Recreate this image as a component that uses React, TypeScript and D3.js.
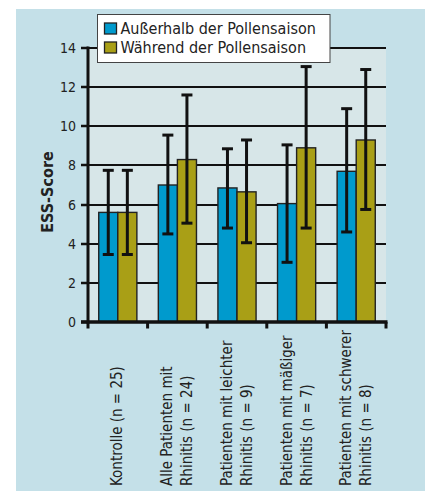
import React from "react";
import * as d3 from "d3";

const categories: string[][] = [
  ["Kontrolle (n = 25)"],
  ["Alle Patienten mit", "Rhinitis (n = 24)"],
  ["Patienten mit leichter", "Rhinitis (n = 9)"],
  ["Patienten mit mäßiger", "Rhinitis (n = 7)"],
  ["Patienten mit schwerer", "Rhinitis (n = 8)"],
];
const seriesNames = ["Außerhalb der Pollensaison", "Während der Pollensaison"];
const seriesColors = ["#009acd", "#a99f16"];
const outsideMean = [5.6, 7.0, 6.85, 6.05, 7.7];
const outsideLow = [3.45, 4.5, 4.8, 3.05, 4.6];
const outsideHigh = [7.75, 9.55, 8.85, 9.05, 10.9];
const duringMean = [5.6, 8.3, 6.65, 8.9, 9.3];
const duringLow = [3.45, 5.05, 4.05, 4.8, 5.75];
const duringHigh = [7.75, 11.6, 9.3, 13.05, 12.9];
const yTicks = [0, 2, 4, 6, 8, 10, 12, 14];

const FONT = "'DejaVu Sans Condensed', 'DejaVu Sans', sans-serif";

export default function App() {
  const W = 425, H = 491;
  const left = 88, right = 386, top = 48, bottom = 322;
  const idx = categories.map((_, i) => String(i));
  const x = d3.scaleBand<string>().domain(idx).range([left, right]).padding(0);
  const bw = x.bandwidth();
  const xi = d3.scaleBand<string>().domain(["0", "1"]).range([bw * 0.18, bw * 0.82]).padding(0);
  const y = d3.scaleLinear().domain([0, 14]).range([bottom, top]);
  const series = [
    { mean: outsideMean, low: outsideLow, high: outsideHigh },
    { mean: duringMean, low: duringLow, high: duringHigh },
  ];
  const cap = 5.5;

  return (
    <svg width={W} height={H} style={{ position: "absolute", left: 0, top: 0 }} fontFamily={FONT}>
      <rect x={16} y={9} width={W - 16} height={H - 9} fill="#c4e0e8" />
      <rect x={left} y={y(14)} width={right - left} height={bottom - y(14)} fill="#d7e6e8" />
      {yTicks.filter((t) => t > 0).map((t) => (
        <line key={"g" + t} x1={left} x2={right} y1={Math.round(y(t))} y2={Math.round(y(t))} stroke="#111" strokeWidth={2} />
      ))}
      {idx.map((c, i) =>
        series.map((s, k) => {
          const bx = (x(c) as number) + (xi(String(k)) as number);
          return (
            <rect key={"b" + i + k} x={bx} y={y(s.mean[i])} width={xi.bandwidth()}
              height={y(0) - y(s.mean[i])} fill={seriesColors[k]} stroke="#222" strokeWidth={1.4} />
          );
        })
      )}
      {idx.map((c, i) =>
        series.map((s, k) => {
          const cx = (x(c) as number) + (xi(String(k)) as number) + xi.bandwidth() / 2;
          return (
            <g key={"e" + i + k} stroke="#111" strokeWidth={3}>
              <line x1={cx} x2={cx} y1={y(s.low[i])} y2={y(s.high[i])} />
              <line x1={cx - cap} x2={cx + cap} y1={y(s.high[i])} y2={y(s.high[i])} />
              <line x1={cx - cap} x2={cx + cap} y1={y(s.low[i])} y2={y(s.low[i])} />
            </g>
          );
        })
      )}
      {/* axes */}
      <line x1={left} x2={left} y1={y(14) - 1.5} y2={bottom + 1.5} stroke="#111" strokeWidth={3} />
      <line x1={81} x2={right + 1.5} y1={bottom} y2={bottom} stroke="#111" strokeWidth={3.3} />
      {yTicks.map((t) => (
        <g key={"t" + t}>
          <line x1={81} x2={left} y1={Math.round(y(t))} y2={Math.round(y(t))} stroke="#111" strokeWidth={2.5} />
          <text x={76} y={y(t)} dy="0.36em" textAnchor="end" fontSize={14} fill="#222">{t}</text>
        </g>
      ))}
      {idx.concat([String(categories.length)]).map((c, i) => {
        const xx = i < categories.length ? (x(c) as number) : right;
        return <line key={"xt" + i} x1={xx} x2={xx} y1={bottom} y2={bottom + 6.5} stroke="#111" strokeWidth={3} />;
      })}
      <text transform={`translate(53,192) rotate(-90)`} textAnchor="middle" fontSize={16} fontWeight="bold" fill="#222">ESS-Score</text>
      {categories.map((lines, i) => {
        const cx = (x(String(i)) as number) + bw / 2;
        return lines.map((ln, j) => {
          const bx = lines.length === 1 ? cx + 4 : cx - 5 + j * 20;
          return (
            <text key={"xl" + i + j} transform={`translate(${bx},486) rotate(-90)`} textAnchor="start" fontSize={15} fill="#222">{ln}</text>
          );
        });
      })}
      {/* legend */}
      <rect x={97.5} y={14.5} width={232.5} height={48} fill="#ffffff" stroke="#444" strokeWidth={1} />
      {seriesNames.map((n, k) => (
        <g key={"l" + k}>
          <rect x={104.5} y={23 + k * 19} width={12} height={11} fill={seriesColors[k]} stroke="#222" strokeWidth={1.3} />
          <text x={120.5} y={34 + k * 19} fontSize={16} fill="#222">{n}</text>
        </g>
      ))}
    </svg>
  );
}
